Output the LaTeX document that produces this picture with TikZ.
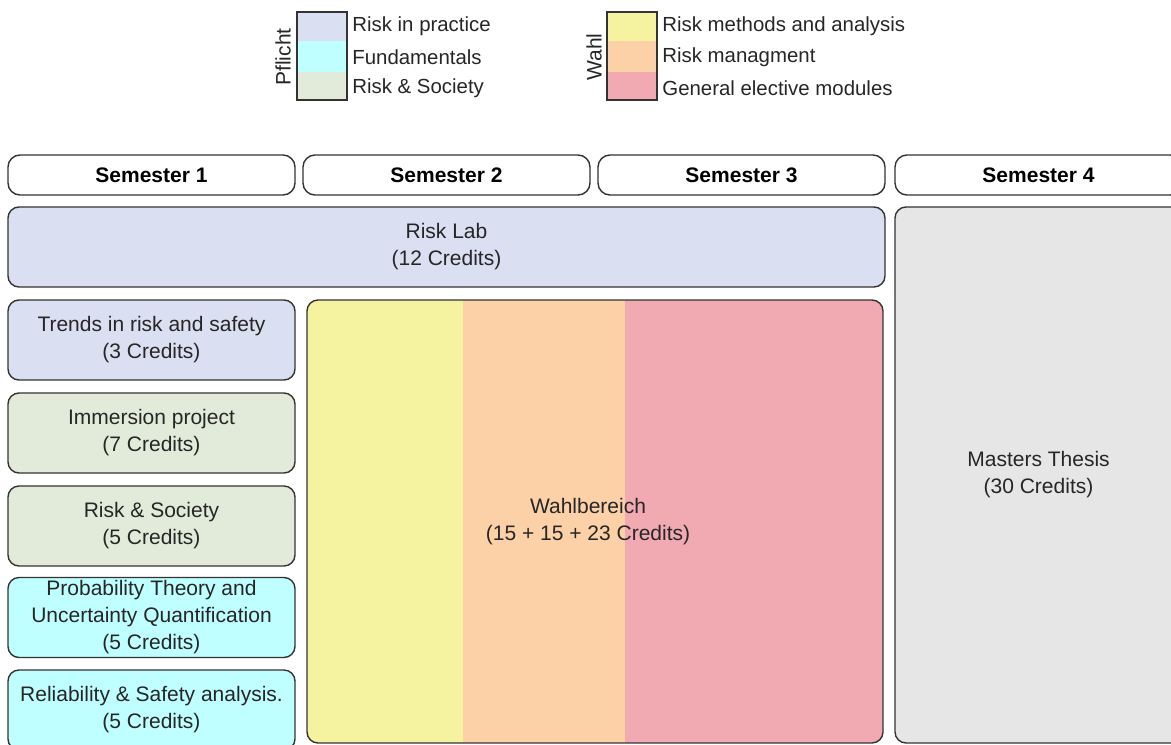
\documentclass[tikz,border=0pt]{standalone}
\usepackage{fontspec}
\setmainfont{Liberation Sans}
\definecolor{practice}{RGB}{218,223,242}
\definecolor{fundamentals}{RGB}{192,255,255}
\definecolor{society}{RGB}{226,235,218}
\definecolor{methods}{RGB}{245,242,160}
\definecolor{managment}{RGB}{253,209,168}
\definecolor{elective}{RGB}{241,169,178}
\definecolor{thesis}{RGB}{230,230,230}
\begin{document}
\begin{tikzpicture}[x=0.5pt,y=-0.5pt,
    every node/.style={font=\fontsize{10.5}{13.5}\selectfont,text=black!85},
    box/.style={draw=black!80,line width=0.7pt,rounded corners=5.5pt,align=center,inner sep=0pt},
    sembox/.style={box,fill=white,rounded corners=6pt,minimum width=143.5pt,minimum height=20pt,
        font=\fontsize{10.5}{13.5}\selectfont\bfseries,text=black},
    modbox/.style={box,minimum width=143.5pt,minimum height=40pt},
    key/.style={anchor=west,inner sep=0pt,font=\fontsize{10.2}{13}\selectfont}]
        \useasboundingbox (0,0) rectangle (1171,744);
        \fill[practice] (297,12) rectangle (347,41);
        \fill[fundamentals] (297,41) rectangle (347,72);
        \fill[society] (297,72) rectangle (347,100);
        \draw[line width=1pt,black!80] (297,12) rectangle (347,100);
        \node[rotate=90] (pflicht) at (283,57){Pflicht};
        \node[key] (kpractice) at (352,26){Risk in practice};
        \node[key] (kfund) at (352,57){Fundamentals};
        \node[key] (ksociety) at (352,88){Risk \& Society};
        \fill[methods] (607,12) rectangle (657,41);
        \fill[managment] (607,41) rectangle (657,72);
        \fill[elective] (607,72) rectangle (657,100);
        \draw[line width=1pt,black!80] (607,12) rectangle (657,100);
        \node[rotate=90] (wahlkey) at (594,57){Wahl};
        \node[key] (kmethods) at (662,26){Risk methods and analysis};
        \node[key] (kmanag) at (662,57){Risk managment};
        \node[key] (kelective) at (662,88){General elective modules};
        \node[sembox] (sem1) at (151.5,175){Semester 1};
        \node[sembox] (sem2) at (446.5,175){Semester 2};
        \node[sembox] (sem3) at (741.5,175){Semester 3};
        \node[sembox] (sem4) at (1038.5,175){Semester 4};
        \node[box,fill=practice,minimum width=438.5pt,minimum height=40pt] (lab) at (446.5,247){Risk Lab\\(12 Credits)};
        \node[box,fill=thesis,minimum width=143.5pt,minimum height=268pt] (thesis) at (1038.5,475){Masters Thesis\\(30 Credits)};
        \node[modbox,fill=practice] (trends) at (151.5,340){Trends in risk and safety\\(3 Credits)};
        \node[modbox,fill=society] (immersion) at (151.5,433){Immersion project\\(7 Credits)};
        \node[modbox,fill=society] (risksoc) at (151.5,526){Risk \& Society\\(5 Credits)};
        \node[modbox,fill=fundamentals] (prob) at (151.5,617.5){Probability Theory and\\Uncertainty Quantification\\(5 Credits)};
        \node[modbox,fill=fundamentals] (reliab) at (151.5,710){Reliability \& Safety analysis.\\(5 Credits)};
        \begin{scope}
            \clip[rounded corners=5.5pt] (307,300) rectangle (883,743);
            \fill[methods] (307,300) rectangle (463,743);
            \fill[managment] (463,300) rectangle (625,743);
            \fill[elective] (625,300) rectangle (883,743);
        \end{scope}
        \node[box,minimum width=288pt,minimum height=221.5pt] (wahl) at (595,521.5){};
        \node[align=center,inner sep=0pt] (wahltext) at (588,521.5){Wahlbereich\\(15 + 15 + 23 Credits)};
    \end{tikzpicture}
\end{document}
